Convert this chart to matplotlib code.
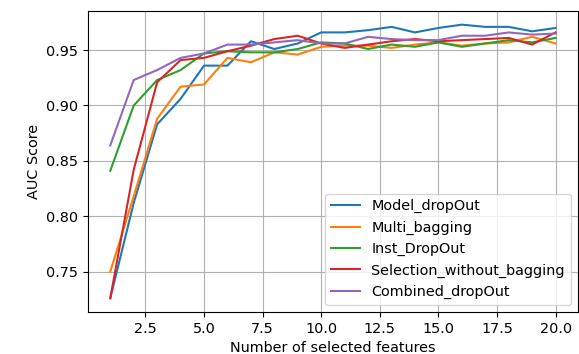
import matplotlib
matplotlib.use('Agg')
import matplotlib.pyplot as plt

plt.rcParams['font.size'] = 10.4

n_features = list(range(1, 21))

model_dropout = [0.726, 0.812, 0.883, 0.906, 0.936, 0.936, 0.958, 0.951, 0.956, 0.966,
                 0.966, 0.968, 0.971, 0.966, 0.970, 0.973, 0.971, 0.971, 0.967, 0.970]
multi_bagging = [0.750, 0.818, 0.888, 0.917, 0.919, 0.943, 0.939, 0.948, 0.946, 0.953,
                 0.954, 0.954, 0.952, 0.955, 0.957, 0.954, 0.956, 0.957, 0.962, 0.956]
inst_dropout = [0.841, 0.900, 0.923, 0.932, 0.947, 0.949, 0.948, 0.948, 0.951, 0.957,
                0.956, 0.951, 0.955, 0.953, 0.957, 0.953, 0.956, 0.959, 0.957, 0.961]
selection_without_bagging = [0.726, 0.842, 0.921, 0.941, 0.943, 0.949, 0.954, 0.960, 0.963, 0.956,
                             0.952, 0.955, 0.958, 0.960, 0.958, 0.959, 0.960, 0.961, 0.955, 0.966]
combined_dropout = [0.864, 0.923, 0.932, 0.943, 0.947, 0.955, 0.955, 0.957, 0.959, 0.956,
                    0.956, 0.962, 0.960, 0.959, 0.959, 0.963, 0.963, 0.966, 0.964, 0.965]

series = [
    ('Model_dropOut', model_dropout),
    ('Multi_bagging', multi_bagging),
    ('Inst_DropOut', inst_dropout),
    ('Selection_without_bagging', selection_without_bagging),
    ('Combined_dropOut', combined_dropout),
]

fig = plt.figure(figsize=(5.79, 3.54), dpi=100)
ax = fig.add_axes([0.152, 0.119, 0.846, 0.850])

for name, values in series:
    ax.plot(n_features, values, label=name, linewidth=1.5)

ax.set_xlabel('Number of selected features')
ax.set_ylabel('AUC Score')
ax.grid(True)
ax.legend(loc='lower right')

fig.savefig('out.png', dpi=100)
